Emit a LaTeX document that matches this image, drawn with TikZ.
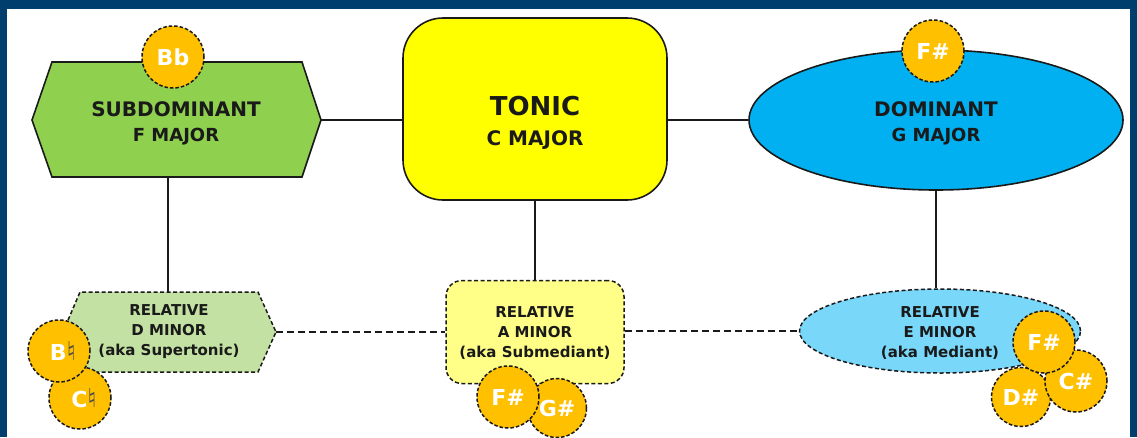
\documentclass[tikz,border=0pt]{standalone}
\usepackage{fontspec}
\setmainfont{DejaVu Sans}
\newfontfamily\musicfont{DejaVu Sans}
\usetikzlibrary{shapes.geometric}
\definecolor{navy}{HTML}{003E6E}
\definecolor{gold}{HTML}{FFC000}
\definecolor{sdgreen}{HTML}{8FD14F}
\definecolor{ltgreen}{HTML}{C3E1A2}
\definecolor{tyellow}{HTML}{FFFF00}
\definecolor{ltyellow}{HTML}{FFFF88}
\definecolor{dblue}{HTML}{00B0F0}
\definecolor{ltblue}{HTML}{79D7FA}
\definecolor{ink}{HTML}{1A1A1A}
\tikzset{
  note/.style={circle, fill=gold, draw=ink, dashed, dash pattern=on 3.5pt off 2pt, line width=1.5pt,
    minimum size=62pt, inner sep=0pt, text=white, font=\fontsize{22}{24}\selectfont\bfseries},
  solidlink/.style={line width=2pt, draw=ink},
  dashlink/.style={line width=2pt, draw=ink, dash pattern=on 7pt off 4pt},
  mainshape/.style={draw=ink, line width=1.6pt},
  relshape/.style={draw=ink, line width=1.5pt, dash pattern=on 4pt off 2.5pt},
  maintext/.style={align=center, text=ink, inner sep=0pt, font=\fontsize{20}{25}\selectfont\bfseries},
  tonictext/.style={align=center, text=ink, inner sep=0pt, font=\fontsize{26}{30}\selectfont\bfseries},
  reltext/.style={align=center, text=ink, inner sep=0pt, font=\fontsize{15}{20}\selectfont\bfseries},
}
\newcommand{\nat}{{\musicfont\mdseries\color{ink!80}\fontsize{26}{26}\selectfont ♮}}
\begin{document}
\begin{tikzpicture}[x=1pt,y=-1pt]
\useasboundingbox (0,0) rectangle (1137,437);
% frame
\fill[navy] (0,0) rectangle (1137,437);
\fill[white] (7,9) rectangle (1130,437);

% ---- main row ----
% subdominant hexagon
\coordinate (sdR) at (321,120);
\coordinate (sdB) at (168,177);
\filldraw[mainshape, fill=sdgreen] (32,120) -- (52,62) -- (302,62) -- (sdR) -- (302,177) -- (52,177) -- cycle;
\node[maintext] (sd) at (176,123) {SUBDOMINANT\\\fontsize{18}{25}\selectfont F MAJOR};

% tonic
\node[mainshape, rounded corners=40pt, fill=tyellow, minimum width=264pt, minimum height=182pt] (tonic) at (535,109) {};
\node[tonictext] (tonictext) at (535,123) {TONIC\\\fontsize{20}{30}\selectfont C MAJOR};

% dominant
\node[mainshape, ellipse, fill=dblue, minimum width=374pt, minimum height=140pt, inner sep=0pt] (dom) at (936,120) {};
\node[maintext] (domtext) at (936,123) {DOMINANT\\\fontsize{18}{25}\selectfont G MAJOR};

% ---- relative row ----
\coordinate (dmR) at (276,332);
\coordinate (dmT) at (168,292);
\filldraw[relshape, fill=ltgreen] (63,332) -- (80,292) -- (258,292) -- (dmR) -- (258,372) -- (80,372) -- cycle;
\node[reltext] (dm) at (169,332) {RELATIVE\\D MINOR\\(aka Supertonic)};

\node[relshape, rounded corners=16pt, fill=ltyellow, minimum width=178pt, minimum height=103pt] (am) at (535,332) {};
\node[reltext] (amtext) at (535,333) {RELATIVE\\A MINOR\\(aka Submediant)};

\node[relshape, ellipse, fill=ltblue, minimum width=281pt, minimum height=84pt, inner sep=0pt] (em) at (940,331) {};
\node[reltext] (emtext) at (940,333) {RELATIVE\\E MINOR\\(aka Mediant)};

% ---- connectors ----
\draw[solidlink] (sdR) -- (sdR -| tonic.west);
\draw[solidlink] (tonic.east |- dom.west) -- (dom.west);
\draw[solidlink] (sdB) -- (dmT);
\draw[solidlink] (tonic.south) -- (am.north);
\draw[solidlink] (dom.south) -- (dom.south |- em.north);
\draw[dashlink] (dmR) -- (dmR -| am.west);
\draw[dashlink] (am.east |- em.west) -- (em.west);

% ---- accidentals ----
\node[note] (bb) at (173,57) {Bb};
\node[note] (fsd) at (933,51) {F\#};

\node[note] (cn) at (80,398) {\hspace{8pt}C\nat};
\node[note] (bn) at (59,351) {\hspace{8pt}B\nat};

\node[note, minimum size=59pt] (gs) at (557,408) {G\#};
\node[note] (fsa) at (508,397) {F\#};

\node[note, minimum size=59pt] (ds) at (1021,397) {D\#};
\node[note] (cs) at (1076,381) {C\#};
\node[note] (fse) at (1044,342) {F\#};
\end{tikzpicture}
\end{document}
